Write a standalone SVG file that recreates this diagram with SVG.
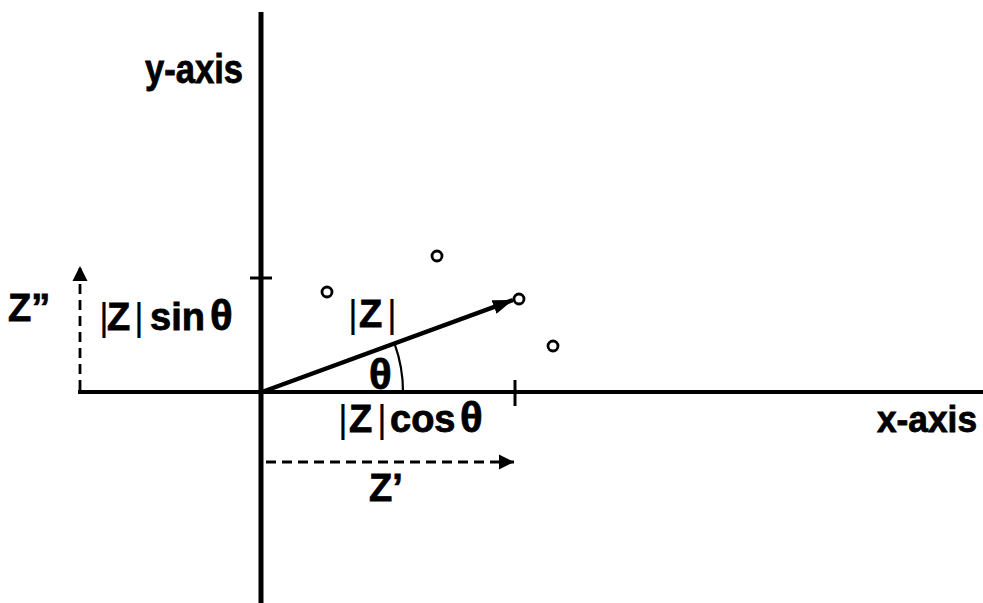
<svg xmlns="http://www.w3.org/2000/svg" width="983" height="603" viewBox="0 0 983 603">
<style>
.ax{stroke:#000;stroke-width:4;fill:none}
.tk{stroke:#000;stroke-width:3;fill:none}
.ds{stroke:#000;stroke-width:2.8;fill:none;stroke-dasharray:10 6}
.pt{stroke:#000;stroke-width:2.8;fill:#fff}
.lb{font-family:"Liberation Sans",Arial,sans-serif;font-weight:bold;font-size:38px;fill:#000;stroke:#000;stroke-width:0.8}
.br{font-weight:normal;stroke:none}
.th{font-size:42px}
</style>
<defs>
<marker id="ah" viewBox="0 0 14 10" refX="14" refY="5" markerWidth="4.5" markerHeight="3.2" orient="auto" markerUnits="strokeWidth"><path d="M0,0 L14,5 L0,10 z" fill="#000"/></marker>
<marker id="ahd" viewBox="0 0 10 10" refX="10" refY="5" markerWidth="5.5" markerHeight="5.5" orient="auto" markerUnits="strokeWidth"><path d="M0,0 L10,5 L0,10 z" fill="#000"/></marker>
</defs>
<g id="axes">
<line class="ax" x1="261" y1="12" x2="261" y2="603" style="stroke-width:5"/>
<line class="ax" x1="78" y1="392" x2="983" y2="392"/>
<line class="tk" x1="250" y1="278" x2="272" y2="278"/>
<line class="tk" x1="515" y1="380" x2="515" y2="406"/>
</g>
<g id="connectors">
<line class="ax" x1="262" y1="392" x2="513" y2="300" style="stroke-width:4.5" marker-end="url(#ah)"/>
<path class="tk" style="stroke-width:2.2" d="M403,392 A141,141 0 0 0 394.7,344.2"/>
<line class="ds" x1="80" y1="390" x2="80" y2="266" marker-end="url(#ahd)"/>
<line class="ds" x1="266" y1="462" x2="514" y2="462" marker-end="url(#ahd)"/>
</g>
<g id="points">
<circle class="pt" cx="327" cy="292" r="5"/>
<circle class="pt" cx="437" cy="256" r="5"/>
<circle class="pt" cx="519" cy="299" r="5"/>
<circle class="pt" cx="553" cy="346" r="5"/>
</g>
<g id="labels">
<text class="lb" x="145" y="83" style="font-size:40px" textLength="98" lengthAdjust="spacingAndGlyphs">y-axis</text>
<text class="lb" x="877" y="432" style="font-size:36px" textLength="100" lengthAdjust="spacingAndGlyphs">x-axis</text>
<text class="lb" x="8" y="321">Z”</text>
<text class="lb" y="330"><tspan class="br" x="99">|</tspan><tspan x="107">Z</tspan><tspan class="br" x="134">|</tspan><tspan x="150">sin</tspan><tspan class="th" x="210">θ</tspan></text>
<text class="lb" y="327"><tspan class="br" x="348">|</tspan><tspan x="359">Z</tspan><tspan class="br" x="387">|</tspan></text>
<text class="lb th" x="369" y="389">θ</text>
<text class="lb" y="432"><tspan class="br" x="338">|</tspan><tspan x="349">Z</tspan><tspan class="br" x="377">|</tspan><tspan x="390">cos</tspan><tspan class="th" x="460">θ</tspan></text>
<text class="lb" x="369" y="501">Z’</text>
</g>
</svg>
